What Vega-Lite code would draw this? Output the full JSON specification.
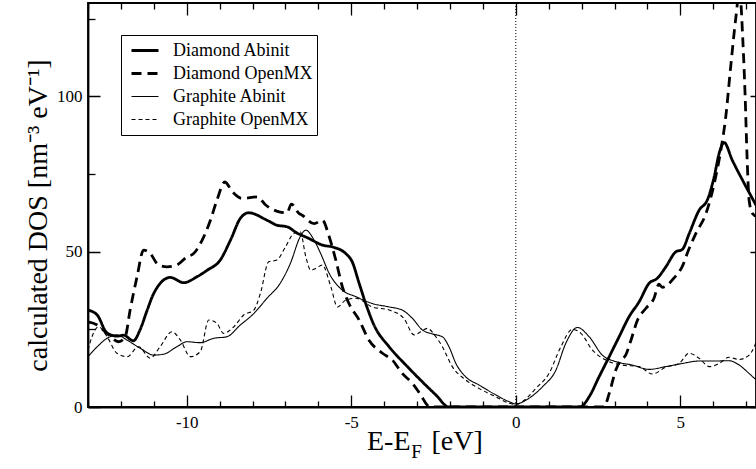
{
"$schema": "https://vega.github.io/schema/vega-lite/v6.json",
"width": 668, "height": 404,
"padding": {"left": 88, "top": 3, "right": 0, "bottom": 62},
"autosize": {"type": "none"},
"background": "white",
"config": {
  "view": {"stroke": "black", "strokeWidth": 1.8},
  "font": "Liberation Serif",
  "axis": {"labelFont": "Liberation Serif", "labelFontSize": 17, "labelColor": "black", "titleFont": "Liberation Serif", "titleColor": "black", "titleFontWeight": "normal", "domainColor": "black", "domainWidth": 1.8, "tickColor": "black", "tickWidth": 1.3, "grid": false},
  "legend": {"labelFont": "Liberation Serif", "labelFontSize": 18, "labelColor": "black", "symbolType": "stroke", "symbolSize": 729, "symbolStrokeColor": "black", "strokeColor": "black", "fillColor": "white", "padding": 4, "symbolOffset": 5, "labelOffset": 13, "clipHeight": 23, "rowPadding": 0}
},
"datasets": {
  "anchor": [{"E": 0, "DOS": 0}],
  "curves": [
{"series":"Diamond Abinit","E":-13.0,"DOS":31.2},{"series":"Diamond Abinit","E":-12.72,"DOS":29.6},{"series":"Diamond Abinit","E":-12.42,"DOS":23.8},{"series":"Diamond Abinit","E":-12.1,"DOS":22.8},{"series":"Diamond Abinit","E":-11.92,"DOS":23.1},{"series":"Diamond Abinit","E":-11.62,"DOS":21.3},{"series":"Diamond Abinit","E":-11.42,"DOS":24.8},{"series":"Diamond Abinit","E":-11.2,"DOS":31.2},{"series":"Diamond Abinit","E":-11.0,"DOS":36.6},{"series":"Diamond Abinit","E":-10.5,"DOS":41.7},{"series":"Diamond Abinit","E":-10.09,"DOS":40.0},{"series":"Diamond Abinit","E":-9.69,"DOS":41.9},{"series":"Diamond Abinit","E":-9.38,"DOS":44.0},{"series":"Diamond Abinit","E":-8.98,"DOS":47.3},{"series":"Diamond Abinit","E":-8.67,"DOS":53.7},{"series":"Diamond Abinit","E":-8.37,"DOS":60.7},{"series":"Diamond Abinit","E":-8.12,"DOS":62.5},{"series":"Diamond Abinit","E":-7.56,"DOS":60.1},{"series":"Diamond Abinit","E":-7.26,"DOS":58.5},{"series":"Diamond Abinit","E":-6.95,"DOS":58.0},{"series":"Diamond Abinit","E":-6.65,"DOS":56.0},{"series":"Diamond Abinit","E":-6.28,"DOS":54.2},{"series":"Diamond Abinit","E":-5.88,"DOS":52.1},{"series":"Diamond Abinit","E":-5.57,"DOS":51.5},{"series":"Diamond Abinit","E":-5.17,"DOS":49.4},{"series":"Diamond Abinit","E":-4.97,"DOS":46.7},{"series":"Diamond Abinit","E":-4.76,"DOS":39.8},{"series":"Diamond Abinit","E":-4.56,"DOS":33.3},{"series":"Diamond Abinit","E":-4.31,"DOS":26.4},{"series":"Diamond Abinit","E":-3.85,"DOS":19.4},{"series":"Diamond Abinit","E":-3.34,"DOS":13.5},{"series":"Diamond Abinit","E":-2.84,"DOS":8.1},{"series":"Diamond Abinit","E":-2.43,"DOS":3.9},{"series":"Diamond Abinit","E":-2.03,"DOS":0.0},{"series":"Diamond Abinit","E":-1.0,"DOS":0.0},{"series":"Diamond Abinit","E":0.0,"DOS":0.0},{"series":"Diamond Abinit","E":1.0,"DOS":0.0},{"series":"Diamond Abinit","E":1.95,"DOS":0.0},{"series":"Diamond Abinit","E":2.23,"DOS":3.3},{"series":"Diamond Abinit","E":2.53,"DOS":9.7},{"series":"Diamond Abinit","E":2.84,"DOS":16.2},{"series":"Diamond Abinit","E":3.14,"DOS":22.6},{"series":"Diamond Abinit","E":3.44,"DOS":29.0},{"series":"Diamond Abinit","E":3.75,"DOS":33.9},{"series":"Diamond Abinit","E":4.05,"DOS":39.8},{"series":"Diamond Abinit","E":4.3,"DOS":41.4},{"series":"Diamond Abinit","E":4.56,"DOS":45.1},{"series":"Diamond Abinit","E":4.86,"DOS":49.9},{"series":"Diamond Abinit","E":5.06,"DOS":50.7},{"series":"Diamond Abinit","E":5.27,"DOS":55.8},{"series":"Diamond Abinit","E":5.57,"DOS":63.3},{"series":"Diamond Abinit","E":5.82,"DOS":66.6},{"series":"Diamond Abinit","E":6.03,"DOS":74.1},{"series":"Diamond Abinit","E":6.18,"DOS":81.6},{"series":"Diamond Abinit","E":6.33,"DOS":85.1},{"series":"Diamond Abinit","E":6.58,"DOS":79.4},{"series":"Diamond Abinit","E":6.89,"DOS":73.0},{"series":"Diamond Abinit","E":7.19,"DOS":67.1},{"series":"Diamond Abinit","E":7.5,"DOS":61.0},
{"series":"Diamond OpenMX","E":-13.0,"DOS":27.4},{"series":"Diamond OpenMX","E":-12.72,"DOS":26.4},{"series":"Diamond OpenMX","E":-12.42,"DOS":23.7},{"series":"Diamond OpenMX","E":-12.07,"DOS":21.0},{"series":"Diamond OpenMX","E":-11.87,"DOS":22.6},{"series":"Diamond OpenMX","E":-11.72,"DOS":31.2},{"series":"Diamond OpenMX","E":-11.51,"DOS":41.9},{"series":"Diamond OpenMX","E":-11.31,"DOS":50.5},{"series":"Diamond OpenMX","E":-11.11,"DOS":49.4},{"series":"Diamond OpenMX","E":-10.86,"DOS":45.7},{"series":"Diamond OpenMX","E":-10.6,"DOS":45.1},{"series":"Diamond OpenMX","E":-10.3,"DOS":45.7},{"series":"Diamond OpenMX","E":-9.99,"DOS":48.3},{"series":"Diamond OpenMX","E":-9.79,"DOS":49.4},{"series":"Diamond OpenMX","E":-9.53,"DOS":53.7},{"series":"Diamond OpenMX","E":-9.28,"DOS":60.1},{"series":"Diamond OpenMX","E":-9.08,"DOS":66.6},{"series":"Diamond OpenMX","E":-8.84,"DOS":72.4},{"series":"Diamond OpenMX","E":-8.61,"DOS":69.2},{"series":"Diamond OpenMX","E":-8.31,"DOS":67.1},{"series":"Diamond OpenMX","E":-7.85,"DOS":67.6},{"series":"Diamond OpenMX","E":-7.6,"DOS":65.0},{"series":"Diamond OpenMX","E":-7.19,"DOS":62.8},{"series":"Diamond OpenMX","E":-6.95,"DOS":62.5},{"series":"Diamond OpenMX","E":-6.82,"DOS":65.3},{"series":"Diamond OpenMX","E":-6.59,"DOS":62.3},{"series":"Diamond OpenMX","E":-6.49,"DOS":61.7},{"series":"Diamond OpenMX","E":-6.13,"DOS":59.0},{"series":"Diamond OpenMX","E":-5.88,"DOS":60.1},{"series":"Diamond OpenMX","E":-5.67,"DOS":54.8},{"series":"Diamond OpenMX","E":-5.47,"DOS":47.3},{"series":"Diamond OpenMX","E":-5.27,"DOS":38.7},{"series":"Diamond OpenMX","E":-5.07,"DOS":33.3},{"series":"Diamond OpenMX","E":-4.76,"DOS":28.0},{"series":"Diamond OpenMX","E":-4.46,"DOS":21.5},{"series":"Diamond OpenMX","E":-4.05,"DOS":17.3},{"series":"Diamond OpenMX","E":-3.75,"DOS":15.1},{"series":"Diamond OpenMX","E":-3.45,"DOS":10.8},{"series":"Diamond OpenMX","E":-3.14,"DOS":7.6},{"series":"Diamond OpenMX","E":-2.89,"DOS":3.9},{"series":"Diamond OpenMX","E":-2.69,"DOS":0.6},{"series":"Diamond OpenMX","E":-2.6,"DOS":0.0},{"series":"Diamond OpenMX","E":0.0,"DOS":0.0},{"series":"Diamond OpenMX","E":2.68,"DOS":0.0},{"series":"Diamond OpenMX","E":2.84,"DOS":4.4},{"series":"Diamond OpenMX","E":3.04,"DOS":11.9},{"series":"Diamond OpenMX","E":3.19,"DOS":15.1},{"series":"Diamond OpenMX","E":3.34,"DOS":16.7},{"series":"Diamond OpenMX","E":3.5,"DOS":21.5},{"series":"Diamond OpenMX","E":3.7,"DOS":28.0},{"series":"Diamond OpenMX","E":3.95,"DOS":31.7},{"series":"Diamond OpenMX","E":4.2,"DOS":35.0},{"series":"Diamond OpenMX","E":4.35,"DOS":39.5},{"series":"Diamond OpenMX","E":4.45,"DOS":38.5},{"series":"Diamond OpenMX","E":4.84,"DOS":41.9},{"series":"Diamond OpenMX","E":5.05,"DOS":45.0},{"series":"Diamond OpenMX","E":5.25,"DOS":50.5},{"series":"Diamond OpenMX","E":5.47,"DOS":55.8},{"series":"Diamond OpenMX","E":5.78,"DOS":62.3},{"series":"Diamond OpenMX","E":6.03,"DOS":71.9},{"series":"Diamond OpenMX","E":6.23,"DOS":82.6},{"series":"Diamond OpenMX","E":6.38,"DOS":93.3},{"series":"Diamond OpenMX","E":6.53,"DOS":109.4},{"series":"Diamond OpenMX","E":6.69,"DOS":125.5},{"series":"Diamond OpenMX","E":6.8,"DOS":134.0},{"series":"Diamond OpenMX","E":6.9,"DOS":118.0},{"series":"Diamond OpenMX","E":6.97,"DOS":100.0},{"series":"Diamond OpenMX","E":7.03,"DOS":80.0},{"series":"Diamond OpenMX","E":7.09,"DOS":66.6},{"series":"Diamond OpenMX","E":7.19,"DOS":62.3},{"series":"Diamond OpenMX","E":7.3,"DOS":61.5},{"series":"Diamond OpenMX","E":7.5,"DOS":63.0},
{"series":"Graphite Abinit","E":-13.0,"DOS":16.2},{"series":"Graphite Abinit","E":-12.72,"DOS":19.4},{"series":"Graphite Abinit","E":-12.42,"DOS":22.1},{"series":"Graphite Abinit","E":-12.12,"DOS":23.2},{"series":"Graphite Abinit","E":-11.81,"DOS":21.5},{"series":"Graphite Abinit","E":-11.41,"DOS":18.9},{"series":"Graphite Abinit","E":-11.0,"DOS":16.7},{"series":"Graphite Abinit","E":-10.7,"DOS":17.0},{"series":"Graphite Abinit","E":-10.3,"DOS":19.4},{"series":"Graphite Abinit","E":-9.99,"DOS":21.0},{"series":"Graphite Abinit","E":-9.59,"DOS":20.7},{"series":"Graphite Abinit","E":-9.18,"DOS":22.1},{"series":"Graphite Abinit","E":-8.78,"DOS":22.6},{"series":"Graphite Abinit","E":-8.37,"DOS":26.4},{"series":"Graphite Abinit","E":-7.96,"DOS":30.1},{"series":"Graphite Abinit","E":-7.56,"DOS":35.0},{"series":"Graphite Abinit","E":-7.16,"DOS":39.8},{"series":"Graphite Abinit","E":-6.85,"DOS":46.2},{"series":"Graphite Abinit","E":-6.55,"DOS":54.8},{"series":"Graphite Abinit","E":-6.38,"DOS":56.9},{"series":"Graphite Abinit","E":-6.13,"DOS":53.7},{"series":"Graphite Abinit","E":-5.93,"DOS":49.4},{"series":"Graphite Abinit","E":-5.67,"DOS":43.0},{"series":"Graphite Abinit","E":-5.27,"DOS":37.6},{"series":"Graphite Abinit","E":-4.86,"DOS":35.5},{"series":"Graphite Abinit","E":-4.36,"DOS":33.3},{"series":"Graphite Abinit","E":-3.85,"DOS":32.2},{"series":"Graphite Abinit","E":-3.45,"DOS":31.2},{"series":"Graphite Abinit","E":-3.14,"DOS":28.5},{"series":"Graphite Abinit","E":-2.84,"DOS":24.8},{"series":"Graphite Abinit","E":-2.53,"DOS":23.5},{"series":"Graphite Abinit","E":-2.23,"DOS":22.6},{"series":"Graphite Abinit","E":-2.03,"DOS":19.4},{"series":"Graphite Abinit","E":-1.82,"DOS":14.0},{"series":"Graphite Abinit","E":-1.52,"DOS":9.7},{"series":"Graphite Abinit","E":-1.12,"DOS":7.1},{"series":"Graphite Abinit","E":-0.61,"DOS":3.9},{"series":"Graphite Abinit","E":-0.2,"DOS":1.7},{"series":"Graphite Abinit","E":0.0,"DOS":1.0},{"series":"Graphite Abinit","E":0.4,"DOS":2.8},{"series":"Graphite Abinit","E":0.81,"DOS":6.5},{"series":"Graphite Abinit","E":1.22,"DOS":11.9},{"series":"Graphite Abinit","E":1.52,"DOS":20.5},{"series":"Graphite Abinit","E":1.87,"DOS":25.6},{"series":"Graphite Abinit","E":2.23,"DOS":22.6},{"series":"Graphite Abinit","E":2.63,"DOS":16.7},{"series":"Graphite Abinit","E":3.04,"DOS":14.6},{"series":"Graphite Abinit","E":3.54,"DOS":13.5},{"series":"Graphite Abinit","E":4.05,"DOS":12.1},{"series":"Graphite Abinit","E":4.56,"DOS":13.0},{"series":"Graphite Abinit","E":5.06,"DOS":14.0},{"series":"Graphite Abinit","E":5.57,"DOS":14.8},{"series":"Graphite Abinit","E":6.08,"DOS":14.8},{"series":"Graphite Abinit","E":6.48,"DOS":14.9},{"series":"Graphite Abinit","E":6.79,"DOS":13.5},{"series":"Graphite Abinit","E":7.09,"DOS":10.8},{"series":"Graphite Abinit","E":7.29,"DOS":8.9},{"series":"Graphite Abinit","E":7.5,"DOS":7.5},
{"series":"Graphite OpenMX","E":-13.0,"DOS":18.3},{"series":"Graphite OpenMX","E":-12.88,"DOS":22.6},{"series":"Graphite OpenMX","E":-12.68,"DOS":25.8},{"series":"Graphite OpenMX","E":-12.42,"DOS":22.6},{"series":"Graphite OpenMX","E":-12.12,"DOS":17.3},{"series":"Graphite OpenMX","E":-11.81,"DOS":16.2},{"series":"Graphite OpenMX","E":-11.46,"DOS":19.4},{"series":"Graphite OpenMX","E":-11.11,"DOS":15.7},{"series":"Graphite OpenMX","E":-10.81,"DOS":19.4},{"series":"Graphite OpenMX","E":-10.45,"DOS":24.2},{"series":"Graphite OpenMX","E":-10.19,"DOS":21.5},{"series":"Graphite OpenMX","E":-9.89,"DOS":16.2},{"series":"Graphite OpenMX","E":-9.59,"DOS":17.8},{"series":"Graphite OpenMX","E":-9.33,"DOS":28.0},{"series":"Graphite OpenMX","E":-9.08,"DOS":26.9},{"series":"Graphite OpenMX","E":-8.88,"DOS":23.7},{"series":"Graphite OpenMX","E":-8.57,"DOS":25.8},{"series":"Graphite OpenMX","E":-8.27,"DOS":29.6},{"series":"Graphite OpenMX","E":-7.96,"DOS":31.2},{"series":"Graphite OpenMX","E":-7.76,"DOS":36.6},{"series":"Graphite OpenMX","E":-7.51,"DOS":46.7},{"series":"Graphite OpenMX","E":-7.26,"DOS":47.3},{"series":"Graphite OpenMX","E":-7.0,"DOS":51.5},{"series":"Graphite OpenMX","E":-6.75,"DOS":55.8},{"series":"Graphite OpenMX","E":-6.55,"DOS":56.4},{"series":"Graphite OpenMX","E":-6.38,"DOS":48.3},{"series":"Graphite OpenMX","E":-6.23,"DOS":44.0},{"series":"Graphite OpenMX","E":-6.08,"DOS":44.6},{"series":"Graphite OpenMX","E":-5.88,"DOS":45.7},{"series":"Graphite OpenMX","E":-5.62,"DOS":38.7},{"series":"Graphite OpenMX","E":-5.42,"DOS":32.2},{"series":"Graphite OpenMX","E":-5.17,"DOS":34.4},{"series":"Graphite OpenMX","E":-4.86,"DOS":35.0},{"series":"Graphite OpenMX","E":-4.36,"DOS":32.2},{"series":"Graphite OpenMX","E":-3.85,"DOS":31.2},{"series":"Graphite OpenMX","E":-3.4,"DOS":28.5},{"series":"Graphite OpenMX","E":-3.09,"DOS":23.2},{"series":"Graphite OpenMX","E":-2.89,"DOS":24.2},{"series":"Graphite OpenMX","E":-2.69,"DOS":25.3},{"series":"Graphite OpenMX","E":-2.43,"DOS":22.6},{"series":"Graphite OpenMX","E":-2.23,"DOS":19.4},{"series":"Graphite OpenMX","E":-1.93,"DOS":13.0},{"series":"Graphite OpenMX","E":-1.52,"DOS":8.7},{"series":"Graphite OpenMX","E":-1.12,"DOS":6.0},{"series":"Graphite OpenMX","E":-0.61,"DOS":3.3},{"series":"Graphite OpenMX","E":-0.2,"DOS":1.2},{"series":"Graphite OpenMX","E":0.0,"DOS":0.8},{"series":"Graphite OpenMX","E":0.2,"DOS":1.7},{"series":"Graphite OpenMX","E":0.61,"DOS":6.0},{"series":"Graphite OpenMX","E":1.01,"DOS":10.8},{"series":"Graphite OpenMX","E":1.37,"DOS":19.4},{"series":"Graphite OpenMX","E":1.72,"DOS":25.0},{"series":"Graphite OpenMX","E":1.98,"DOS":23.7},{"series":"Graphite OpenMX","E":2.33,"DOS":18.3},{"series":"Graphite OpenMX","E":2.74,"DOS":15.1},{"series":"Graphite OpenMX","E":3.24,"DOS":13.5},{"series":"Graphite OpenMX","E":3.75,"DOS":13.0},{"series":"Graphite OpenMX","E":4.15,"DOS":10.6},{"series":"Graphite OpenMX","E":4.56,"DOS":12.8},{"series":"Graphite OpenMX","E":4.96,"DOS":14.0},{"series":"Graphite OpenMX","E":5.27,"DOS":17.3},{"series":"Graphite OpenMX","E":5.57,"DOS":15.7},{"series":"Graphite OpenMX","E":5.88,"DOS":13.0},{"series":"Graphite OpenMX","E":6.18,"DOS":14.0},{"series":"Graphite OpenMX","E":6.48,"DOS":16.0},{"series":"Graphite OpenMX","E":6.79,"DOS":15.3},{"series":"Graphite OpenMX","E":7.09,"DOS":16.7},{"series":"Graphite OpenMX","E":7.29,"DOS":20.5},{"series":"Graphite OpenMX","E":7.5,"DOS":28.0}
  ]
},
"layer": [
  {
    "data": {"name": "curves"},
    "mark": {"type": "line", "color": "black", "clip": true, "interpolate": "monotone"},
    "encoding": {
      "x": {"field": "E", "type": "quantitative", "scale": {"domain": [-13, 7.3], "nice": false, "zero": false},
        "axis": {"orient": "bottom", "values": [-13,-12,-11,-10,-9,-8,-7,-6,-5,-4,-3,-2,-1,0,1,2,3,4,5,6,7], "ticks": false, "labelPadding": 7, "labelExpr": "datum.value % 5 === 0 ? datum.value + '' : ''",
          "grid": true, "gridColor": "black", "gridWidth": 1.3,
          "gridDash": {"condition": {"test": "datum.value % 5 === 0", "value": [12, 380, 12, 1000]}, "value": [6, 392, 6, 1000]},
          "title": "E-E", "titleFontSize": 28, "titleX": 322, "titleY": 42, "titleBaseline": "alphabetic", "titleAlign": "right"}},
      "y": {"field": "DOS", "type": "quantitative", "scale": {"domain": [0, 130], "nice": false},
        "axis": {"orient": "left", "values": [0, 25, 50, 75, 100, 125], "ticks": false, "labelPadding": 6, "labelExpr": "datum.value % 50 === 0 ? datum.value + '' : ''",
          "grid": true, "gridColor": "black", "gridWidth": 1.3,
          "gridDash": {"condition": {"test": "datum.value % 50 === 0", "value": [12, 650, 6, 1000]}, "value": [7, 1000]},
          "title": "calculated DOS [nm\u207b\u00b3 eV\u207b\u00b9]", "titleFontSize": 28, "titleAngle": 270, "titleX": -42, "titleY": 212, "titleBaseline": "alphabetic", "titleAlign": "center"}},
      "strokeDash": {"field": "series", "type": "nominal", "scale": {"type": "ordinal", "domain": ["Diamond Abinit", "Diamond OpenMX", "Graphite Abinit", "Graphite OpenMX"], "range": [[1, 0], [10, 6], [1, 0], [4, 3]]},
        "legend": {"orient": "none", "legendX": 33, "legendY": 32, "title": null}},
      "strokeWidth": {"field": "series", "type": "nominal", "scale": {"type": "ordinal", "domain": ["Diamond Abinit", "Diamond OpenMX", "Graphite Abinit", "Graphite OpenMX"], "range": [2.8, 2.8, 1.1, 1.1]},
        "legend": {"orient": "none", "legendX": 33, "legendY": 32, "title": null}}
    }
  },
  {
    "data": {"name": "anchor"},
    "mark": {"type": "rule", "color": "black", "strokeDash": [1, 2], "strokeWidth": 1},
    "encoding": {
      "x": {"field": "E", "type": "quantitative", "scale": {"domain": [-13, 7.3], "nice": false, "zero": false},
        "axis": {"orient": "bottom", "ticks": false, "labels": false, "domain": false, "grid": false, "title": "F", "titleFontSize": 19, "titleX": 328, "titleY": 50, "titleBaseline": "alphabetic", "titleAlign": "center"}}
    }
  },
  {
    "data": {"name": "anchor"},
    "mark": {"type": "point", "opacity": 0},
    "encoding": {
      "x": {"field": "E", "type": "quantitative", "scale": {"domain": [-13, 7.3], "nice": false, "zero": false},
        "axis": {"orient": "bottom", "ticks": false, "labels": false, "domain": false, "grid": false, "title": "[eV]", "titleFontSize": 28, "titleX": 343, "titleY": 42, "titleBaseline": "alphabetic", "titleAlign": "left"}},
      "y": {"field": "DOS", "type": "quantitative", "scale": {"domain": [0, 130], "nice": false}, "axis": null}
    }
  }
],
"resolve": {"axis": {"x": "independent", "y": "independent"}}
}
